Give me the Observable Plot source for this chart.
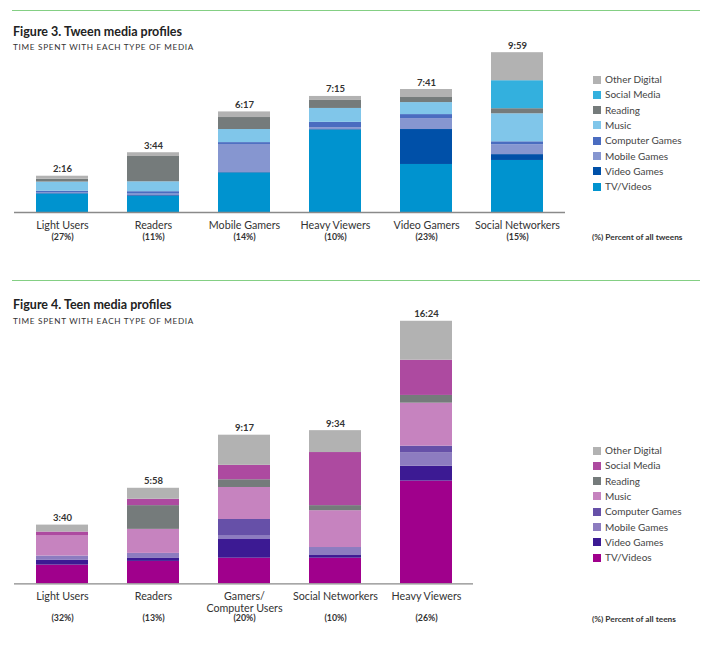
<!DOCTYPE html>
<html>
<head>
<meta charset="utf-8">
<script src="https://cdn.jsdelivr.net/npm/d3@7"></script>
<script src="https://cdn.jsdelivr.net/npm/@observablehq/plot@0.6"></script>
<style>
  body { margin: 0; background: #fff; font-family: Lato, "Open Sans", sans-serif; color: #333; }
  #page { position: relative; width: 710px; height: 653px; overflow: hidden; }
  .rule { position: absolute; left: 12px; width: 688px; height: 1px; background: #84cf84; }
  .title { position: absolute; left: 13px; font-size: 12.5px; font-weight: bold; color: #222; line-height: 14px; white-space: nowrap; }
  .sub { position: absolute; left: 13px; font-size: 8.2px; letter-spacing: 0.7px; color: #333; line-height: 10px; white-space: nowrap; }
  .leg { position: absolute; left: 593px; font-size: 10px; color: #444; line-height: 12px; white-space: nowrap; }
  .leg span.sw { display: inline-block; width: 8px; height: 8px; margin-right: 4px; vertical-align: -0.5px; }
  .note { position: absolute; left: 592px; font-size: 8.3px; font-weight: bold; color: #333; line-height: 10px; white-space: nowrap; }
  svg text { font-family: Lato, "Open Sans", sans-serif; }
</style>
</head>
<body>
<div id="page"></div>
<script>
// ---------- DATA ----------
const mediaTypes = ["TV/Videos","Video Games","Mobile Games","Computer Games","Music","Reading","Social Media","Other Digital"];
const tweenColors = ["#0093cf","#0050a8","#8696d0","#4a6cc0","#80c6ea","#757b7b","#33b0de","#b2b2b2"];
const teenColors  = ["#a0008c","#3c1a93","#8d7cc0","#6650a8","#c683bf","#757b7b","#ad4aa0","#b2b2b2"];

// Figure 3: tweens (minutes)
const tweenCategories = ["Light Users","Readers","Mobile Gamers","Heavy Viewers","Video Gamers","Social Networkers"];
const tweenPercents   = ["(27%)","(11%)","(14%)","(10%)","(23%)","(15%)"];
const tweenTotals     = ["2:16","3:44","6:17","7:15","7:41","9:59"];
const tweenTV          = [69, 60, 148, 309, 180, 195];
const tweenVideoGames  = [2, 3, 2, 2, 131, 22];
const tweenMobileGames = [4, 6, 105, 7, 41, 37];
const tweenComputer    = [5, 9, 7, 20, 15, 11];
const tweenMusic       = [34, 37, 49, 52, 45, 105];
const tweenReading     = [11, 95, 45, 30, 19, 19];
const tweenSocial      = [0, 0, 0, 0, 0, 105];
const tweenOther       = [11, 14, 21, 15, 30, 105];

// Figure 4: teens (minutes)
const teenCategories = ["Light Users","Readers","Gamers/\nComputer Users","Social Networkers","Heavy Viewers"];
const teenPercents   = ["(32%)","(13%)","(20%)","(10%)","(26%)"];
const teenTotals     = ["3:40","5:58","9:17","9:34","16:24"];
const teenTV          = [70, 84, 96, 96, 385];
const teenVideoGames  = [19, 11, 70, 10, 56];
const teenMobileGames = [15, 19, 15, 30, 49];
const teenComputer    = [0, 0, 60, 0, 26];
const teenMusic       = [75, 90, 120, 138, 161];
const teenReading     = [0, 89, 29, 19, 29];
const teenSocial      = [15, 24, 54, 199, 132];
const teenOther       = [26, 41, 113, 82, 146];

// ---------- BUILD ----------
const page = document.getElementById("page");
function add(html) { page.insertAdjacentHTML("beforeend", html); }

function longData(cats, series) {
  const out = [];
  cats.forEach((c, i) => series.forEach((s, j) => out.push({cat: c, type: mediaTypes[j], value: s[i]})));
  return out;
}
function totalsData(cats, series, totals, pcts) {
  return cats.map((c, i) => ({cat: c, total: d3.sum(series, s => s[i]), label: totals[i], pct: pcts[i]}));
}

function chart({cats, series, totals, pcts, colors, right, base, height, labelDy, pctDy}) {
  const data = longData(cats, series);
  const tots = totalsData(cats, series, totals, pcts);
  const k = 0.2668; // px per minute
  return Plot.plot({
    width: 710,
    height,
    marginLeft: 14,
    marginRight: 710 - right,
    marginTop: 0,
    marginBottom: 0,
    style: {fontFamily: "Lato, 'Open Sans', sans-serif", background: "transparent", overflow: "visible"},
    x: {domain: cats, paddingInner: 0.434, paddingOuter: 0.217, axis: null},
    y: {domain: [0, 1000], range: [base, base - 1000 * k], axis: null},
    color: {domain: mediaTypes, range: colors},
    marks: [
      Plot.barY(data, {x: "cat", y: "value", fill: "type", order: null}),
      Plot.ruleY([0], {stroke: "#8a8a8a", strokeWidth: 1.3}),
      Plot.text(tots, {x: "cat", y: "total", text: "label", dy: -7, fontSize: 9.5, fontWeight: "bold", fill: "#333"}),
      Plot.text(tots, {x: "cat", y: 0, text: "cat", dy: labelDy, lineAnchor: "top", lineHeight: 1.1, fontSize: 10.7, fill: "#333"}),
      Plot.text(tots, {x: "cat", y: 0, text: "pct", dy: pctDy, fontSize: 8.8, fontWeight: "bold", fill: "#333"})
    ]
  });
}

// Figure 3
add('<div class="rule" style="top:10px"></div>');
add('<div class="title" style="top:25px">Figure 3. Tween media profiles</div>');
add('<div class="sub" style="top:42px">TIME SPENT WITH EACH TYPE OF MEDIA</div>');
const c1 = chart({
  cats: tweenCategories,
  series: [tweenTV, tweenVideoGames, tweenMobileGames, tweenComputer, tweenMusic, tweenReading, tweenSocial, tweenOther],
  totals: tweenTotals, pcts: tweenPercents, colors: tweenColors,
  right: 565, base: 172, height: 215, labelDy: 8.5, pctDy: 25
});
c1.style.position = "absolute"; c1.style.left = "0px"; c1.style.top = "40px";
page.appendChild(c1);

// Figure 4
add('<div class="rule" style="top:280px"></div>');
add('<div class="title" style="top:298px">Figure 4. Teen media profiles</div>');
add('<div class="sub" style="top:316px">TIME SPENT WITH EACH TYPE OF MEDIA</div>');
const c2 = chart({
  cats: teenCategories,
  series: [teenTV, teenVideoGames, teenMobileGames, teenComputer, teenMusic, teenReading, teenSocial, teenOther],
  totals: teenTotals, pcts: teenPercents, colors: teenColors,
  right: 473, base: 283.3, height: 345, labelDy: 7.7, pctDy: 34.7
});
c2.style.position = "absolute"; c2.style.left = "0px"; c2.style.top = "300px";
page.appendChild(c2);

// Legends
function legend(colors, firstCenter) {
  const order = mediaTypes.map((t, i) => i).reverse();
  order.forEach((idx, r) => {
    const cy = firstCenter + r * 15.3;
    add(`<div class="leg" style="top:${(cy - 6).toFixed(1)}px"><span class="sw" style="background:${colors[idx]}"></span>${mediaTypes[idx]}</div>`);
  });
}
legend(tweenColors, 79);
legend(teenColors, 450);
add('<div class="note" style="top:232px">(%) Percent of all tweens</div>');
add('<div class="note" style="top:614px">(%) Percent of all teens</div>');
</script>
</body>
</html>
